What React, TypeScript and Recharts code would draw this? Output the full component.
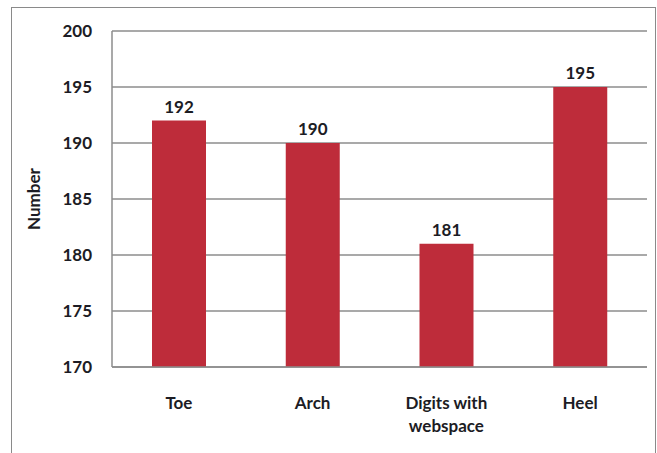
import { BarChart, Bar, XAxis, YAxis, CartesianGrid, LabelList, Text } from 'recharts';

const categories = ['Toe', 'Arch', 'Digits with webspace', 'Heel'];
const counts = [192, 190, 181, 195];
const yTicks = [170, 175, 180, 185, 190, 195, 200];

const data = categories.map((name, i) => ({ name, value: counts[i] }));

const FONT = 'Lato, "DejaVu Sans", sans-serif';
const TEXT = '#1c1c24';
const GRID = '#8c8c8c';

const XTick = ({ x, y, payload }: any) => (
  <Text
    x={x}
    y={y + 22}
    width={100}
    textAnchor="middle"
    verticalAnchor="start"
    lineHeight={23}
    fontFamily={FONT}
    fontWeight="bold"
    fontSize={17}
    fill={TEXT}
  >
    {payload.value}
  </Text>
);

const YTick = ({ x, y, payload }: any) => (
  <text
    x={x - 12}
    y={y}
    dy={6}
    textAnchor="end"
    fontFamily={FONT}
    fontWeight="bold"
    fontSize={17}
    fill={TEXT}
  >
    {payload.value}
  </text>
);

export default function App() {
  return (
    <div style={{ position: 'absolute', left: 0, top: 0, width: 657, height: 453, overflow: 'hidden', background: '#fff' }}>
      <div
        style={{
          position: 'absolute',
          left: 11,
          top: 7,
          width: 645,
          height: 470,
          border: '1px solid #8a8a8a',
          boxSizing: 'border-box',
        }}
      />
      <div style={{ position: 'absolute', left: 0, top: 0 }}>
        <BarChart width={657} height={453} data={data} margin={{ top: 31, right: 10, bottom: 0, left: 0 }}>
          <CartesianGrid horizontal vertical={false} stroke={GRID} strokeWidth={1.5} />
          <XAxis
            dataKey="name"
            height={86}
            tickLine={false}
            axisLine={{ stroke: GRID, strokeWidth: 1.5 }}
            tick={<XTick />}
            interval={0}
          />
          <YAxis
            width={112}
            domain={[170, 200]}
            ticks={yTicks}
            tickLine={false}
            axisLine={{ stroke: GRID, strokeWidth: 1.5 }}
            tick={<YTick />}
            label={{
              value: 'Number',
              angle: -90,
              position: 'insideLeft',
              offset: 34,
              style: { textAnchor: 'middle', fontFamily: FONT, fontWeight: 'bold', fontSize: 17, fill: TEXT },
            }}
          />
          <Bar dataKey="value" fill="#be2c3a" barSize={54} isAnimationActive={false}>
            <LabelList
              dataKey="value"
              position="top"
              offset={8}
              style={{ fontFamily: FONT, fontWeight: 'bold', fontSize: 17, fill: TEXT }}
            />
          </Bar>
        </BarChart>
      </div>
    </div>
  );
}
